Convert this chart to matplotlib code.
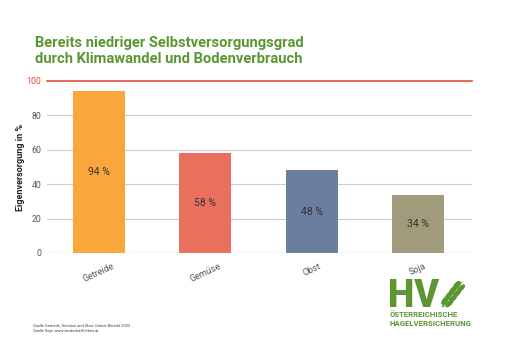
import numpy as np
import matplotlib.pyplot as plt
from matplotlib.patches import Ellipse

categories = ['Getreide', 'Gemüse', 'Obst', 'Soja']
values = [94, 58, 48, 34]
colors = ['#f9a73b', '#e9705c', '#6a7ea0', '#a09b7a']
yticks = [0, 20, 40, 60, 80, 100]

green = '#5b9631'
red = '#ec4a3f'
plt.rcParams['font.family'] = ['Roboto', 'DejaVu Sans']

fig = plt.figure(figsize=(5.12, 3.62), dpi=100)
ax = fig.add_axes([47/512, 1 - 253/362, (472-47)/512, (253-81)/362])

x = np.arange(len(categories))
ax.bar(x, values, width=0.49, color=colors, zorder=2)
for xi, v in zip(x, values):
    ax.text(xi, v / 2, f'{v} %', ha='center', va='center', fontsize=7.5, color='#333333')

for t in yticks[1:-1]:
    ax.axhline(t, color='#cccccc', lw=0.8, zorder=1)
ax.axhline(100, color=red, lw=1.2, zorder=1, clip_on=False)
ax.axhline(0, color='#bbbbbb', lw=0.9, zorder=3)

ax.set_xlim(-0.49, 3.51)
ax.set_ylim(0, 100)
ax.set_yticks(yticks)
ax.set_yticklabels([str(t) for t in yticks], fontsize=6.3, color='#555555')
ax.get_yticklabels()[-1].set_color(red)
ax.set_xticks(x)
ax.set_xticklabels(categories, rotation=25, fontsize=6.5, color='#555555')
ax.tick_params(axis='y', length=0, pad=4)
ax.tick_params(axis='x', length=0, pad=6)
for s in ax.spines.values():
    s.set_visible(False)
ax.set_ylabel('Eigenversorgung in %', fontsize=6.5, fontweight='bold', color='#222222', labelpad=1)

fig.text(35/512, 1 - 47/362, 'Bereits niedriger Selbstversorgungsgrad',
         fontsize=10.6, fontweight='bold', color=green, va='baseline', ha='left')
fig.text(35/512, 1 - 63/362, 'durch Klimawandel und Bodenverbrauch',
         fontsize=10.6, fontweight='bold', color=green, va='baseline', ha='left')

fig.text(33/512, 1 - 326/362, 'Quelle Getreide, Gemüse und Obst: Grüner Bericht 2022',
         fontsize=2.9, color='#444444', va='baseline', ha='left')
fig.text(33/512, 1 - 332/362, 'Quelle Soja: www.landschafftleben.at',
         fontsize=2.9, color='#444444', va='baseline', ha='left')

# logo
fig.text(388/512, 1 - 307/362, 'HV', fontsize=27, fontweight='black', color=green,
         va='baseline', ha='left')
fig.text(390/512, 1 - 317/362, 'ÖSTERREICHISCHE', fontsize=5.6, fontweight='bold',
         color=green, va='baseline', ha='left')
fig.text(390/512, 1 - 326.5/362, 'HAGELVERSICHERUNG', fontsize=5.6, fontweight='bold',
         color=green, va='baseline', ha='left')
lax = fig.add_axes([440/512, 1 - 308/362, 28/512, 30/362])
lax.set_xlim(0, 1)
lax.set_ylim(0, 1)
lax.axis('off')
for i in range(4):
    cx = 0.25 + i * 0.14
    cy = 0.2 + i * 0.17
    lax.add_patch(Ellipse((cx - 0.08, cy + 0.05), 0.12, 0.3, angle=-40, color=green))
    lax.add_patch(Ellipse((cx + 0.08, cy - 0.05), 0.12, 0.3, angle=-50, color=green))
lax.plot([0.1, 0.75], [0.05, 0.85], color=green, lw=1.2)

fig.savefig('out.png', dpi=100, facecolor='white')
